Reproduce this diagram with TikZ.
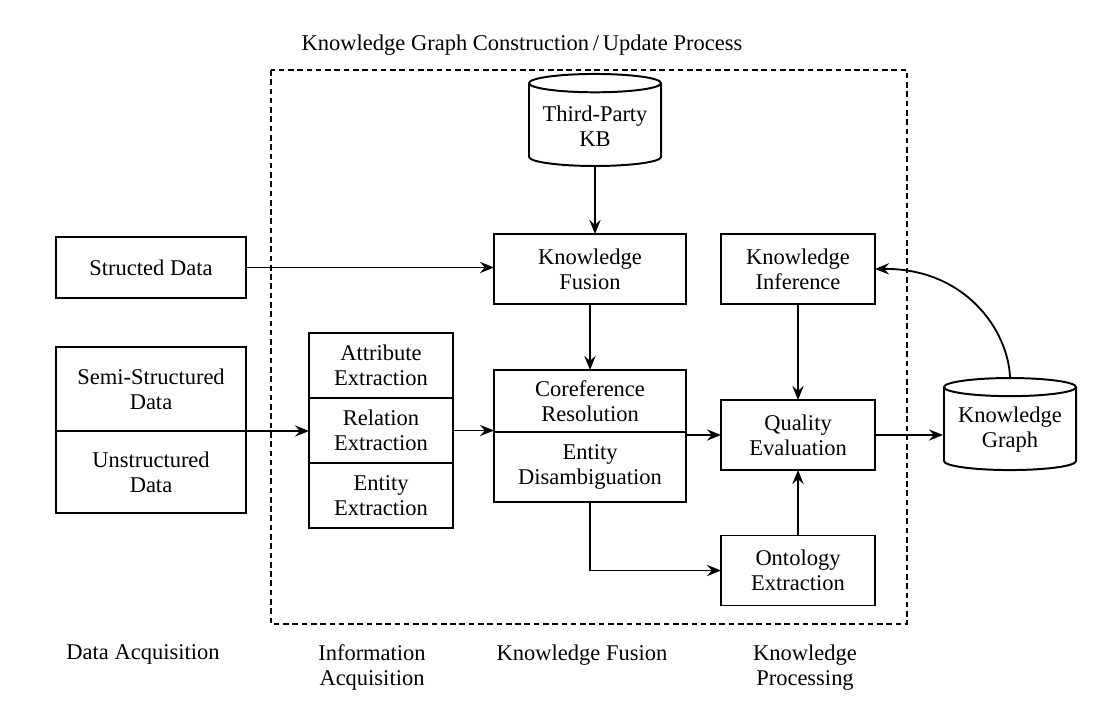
\documentclass[tikz,border=0pt]{standalone}
\usepackage{fontspec}
\setmainfont{Liberation Serif}
\usepackage{tikz}
\usetikzlibrary{positioning,arrows.meta,shapes.geometric}

\begin{document}
\begin{tikzpicture}[
  x=0.025cm, y=-0.025cm,
  font=\fontsize{16pt}{17.7pt}\selectfont, >={Stealth[length=10pt, width=8pt, inset=3.5pt]},
  box/.style={draw, line width=1.4pt, outer sep=0pt, align=center, inner sep=1pt},
  src/.style={box, minimum width=4.75cm},
  ext/.style={box, minimum width=3.6cm, minimum height=1.625cm},
  fus/.style={box, minimum width=4.8cm},
  proc/.style={box, minimum width=3.85cm, minimum height=1.75cm},
  store/.style={draw, line width=1.4pt, cylinder, shape border rotate=90, aspect=0.17,
    minimum width=3.3cm, minimum height=2.3cm, align=center, inner sep=1pt},
  flow/.style={->, line width=1.3pt},
  stage/.style={align=center, anchor=north}]
\useasboundingbox (0,0) rectangle (1101,707);
% construction / update frame
\draw[line width=0.9pt, dash pattern=on 4pt off 2.6pt] (271,70) rectangle (907,624);
\node (title) at (522,45) {Knowledge Graph Construction\,/\,Update Process};
% data sources
\node[src, minimum height=1.525cm] (sd) at (151,267.5) {Structed Data};
\node[src, minimum height=2.1cm] (semi) at (151,389) {Semi-Structured\\Data};
\node[src, minimum height=2.05cm, below=0pt of semi] (unst) {Unstructured\\Data};
% information acquisition
\node[ext] (attr) at (381,365.5) {Attribute\\Extraction};
\node[ext, below=0pt of attr] (rel) {Relation\\Extraction};
\node[ext, below=0pt of rel] (ent) {Entity\\Extraction};
% knowledge fusion
\node[store] (kb) at (595,126) {Third-Party\\KB};
\node[fus, minimum height=1.75cm] (kf) at (590,269) {Knowledge\\Fusion};
\node[fus, minimum height=1.55cm] (coref) at (590,401) {Coreference\\Resolution};
\node[fus, minimum height=1.75cm, below=0pt of coref] (dis) {Entity\\Disambiguation};
% knowledge processing
\node[proc] (ki) at (798,269) {Knowledge\\Inference};
\node[proc] (qe) at (798,435) {Quality\\Evaluation};
\node[proc] (onto) at (798,570.5) {Ontology\\Extraction};
\node[store] (kg) at (1010,430) {Knowledge\\Graph};
% flows
\draw[flow] (kb.south) -- (kb.south |- kf.north);
\draw[flow] (sd.east) -- (sd.east -| kf.west);
\draw[flow] (semi.south east) -- (semi.south east -| rel.west);
\draw[flow] (rel.east) -- (rel.east -| coref.west);
\draw[flow] (kf) -- (coref);
\draw[flow] (qe.west -| coref.east) -- (qe.west);
\draw[flow] (dis.south) |- (onto.west);
\draw[flow] (ki) -- (qe);
\draw[flow] (onto) -- (qe);
\draw[flow] (qe.east) -- (qe.east -| kg.west);
\draw[flow] (kg.north) .. controls (1008,330) and (965,268) .. (ki.east);
% stage labels
\node[stage] (da) at (143,640) {Data Acquisition};
\node[stage] (ia) at (372,640) {Information\\Acquisition};
\node[stage] (kfs) at (582,640) {Knowledge Fusion};
\node[stage] (kp) at (805,640) {Knowledge\\Processing};
\end{tikzpicture}
\end{document}
